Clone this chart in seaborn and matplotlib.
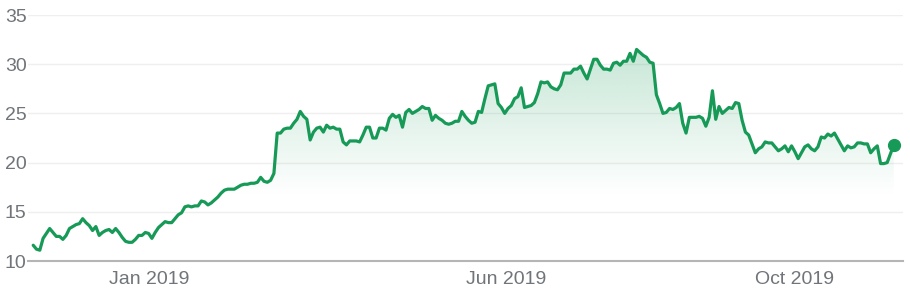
import numpy as np
import pandas as pd
import matplotlib
matplotlib.use("Agg")
import matplotlib.pyplot as plt
import matplotlib.dates as mdates
import seaborn as sns

# ---- data ----
start_date = "2018-11-13"
end_date = "2019-11-12"
prices = [
    # Nov - Dec 2018
    11.6, 11.2, 11.1, 12.3, 12.8, 13.3, 12.9, 12.5, 12.5, 12.2, 12.6, 13.3, 13.5, 13.7, 13.8,
    14.3, 13.9, 13.6, 13.1, 13.5, 12.6, 12.9, 13.1, 13.2, 12.9, 13.3, 12.9, 12.4, 12.0, 11.9,
    11.9, 12.2, 12.6, 12.6, 12.9,
    # Jan - Feb 2019
    12.8, 12.3, 12.9, 13.4, 13.7, 14.0, 13.9, 13.9, 14.3, 14.7, 14.9, 15.5, 15.6, 15.5, 15.6,
    15.6, 16.1, 16.0, 15.7, 15.9, 16.2, 16.5, 16.9, 17.2, 17.3, 17.3, 17.3, 17.5, 17.7, 17.8,
    17.8, 17.9, 17.9, 18.0, 18.5, 18.1, 18.0, 18.2, 18.9, 23.0, 23.0,
    # Mar - Apr 2019
    23.4, 23.5, 23.5, 24.0, 24.4, 25.2, 24.7, 24.4, 22.3, 23.1, 23.5, 23.6, 23.1, 23.8, 23.5,
    23.6, 23.4, 23.4, 22.1, 21.8, 22.2, 22.2, 22.2, 22.1, 22.8, 23.6, 23.6, 22.5, 22.5, 23.5,
    23.5, 23.3, 24.5, 24.9, 24.6,
    # Apr - Jun 2019
    24.8, 23.6, 25.1, 25.4, 25.0, 25.2, 25.4, 25.7, 25.5, 25.5, 24.3, 24.8, 24.5, 24.3, 24.0,
    23.9, 24.0, 24.2, 24.2, 25.2, 24.7, 24.3, 24.0, 24.1, 25.2, 25.1, 26.5, 27.8, 27.9, 28.0,
    26.0, 25.6, 25.0, 25.5, 25.8, 26.5, 26.7,
    # Jun - Jul 2019
    27.6, 25.6, 25.7, 25.8, 26.1, 27.0, 28.2, 28.1, 28.2, 27.7, 27.5, 27.4, 27.9, 29.1, 29.1,
    29.1, 29.5, 29.5, 29.8, 29.1, 28.5, 29.5, 30.5, 30.5, 29.9, 29.5, 29.5, 29.4, 30.1, 30.2,
    29.9, 30.3, 30.3, 31.1, 30.3, 31.5, 31.2,
    # Aug - Sep 2019
    30.9, 30.7, 30.2, 30.1, 26.9, 26.0, 25.0, 25.1, 25.5, 25.4, 25.6, 26.0, 24.0, 23.0, 24.6,
    24.6, 24.6, 24.7, 24.5, 23.7, 24.6, 27.3, 24.4, 25.7, 25.0, 25.3, 25.6, 25.5, 26.1, 26.0,
    24.3, 23.1, 22.8,
    # Sep - Nov 2019
    21.9, 21.0, 21.4, 21.6, 22.1, 22.0, 22.0, 21.6, 21.2, 21.4, 21.7, 21.1, 21.7, 21.1, 20.4,
    21.0, 21.6, 21.8, 21.4, 21.2, 21.6, 22.6, 22.5, 22.9, 22.7, 23.0, 22.4, 21.8, 21.2, 21.7,
    21.5, 21.6, 22.0, 22.0, 21.9, 21.9, 21.0, 21.4, 21.7, 19.9, 19.9, 20.0, 20.9, 21.8,
]
y_ticks = [10, 15, 20, 25, 30, 35]
x_tick_dates = ["2019-01-01", "2019-06-01", "2019-10-01"]
x_tick_labels = ["Jan 2019", "Jun 2019", "Oct 2019"]

dates = pd.date_range(start_date, end_date, periods=len(prices))
df = pd.DataFrame({"date": dates, "price": prices})

# ---- style ----
sns.set_style("white")
plt.rcParams["font.family"] = ["Liberation Sans", "DejaVu Sans"]

GREEN = "#179a57"
GRAY_TXT = "#70757a"

fig = plt.figure(figsize=(9.10, 2.93), dpi=100)
ax = fig.add_axes([28 / 910, 1 - 261 / 293, (903 - 28) / 910, (261 - 15) / 293])

# gridlines
for t in y_ticks[1:]:
    ax.axhline(t, color="#efefef", lw=1.0, zorder=0)

# line
sns.lineplot(data=df, x="date", y="price", ax=ax, color=GREEN, lw=2.3, zorder=3)

# gradient fill under line
xnum = mdates.date2num(df["date"])
fill_bottom = 16.5
top = max(prices)
poly = ax.fill_between(df["date"], df["price"], fill_bottom, color="none", lw=0)
grad = np.zeros((256, 2, 4))
rgb = matplotlib.colors.to_rgb(GREEN)
grad[:, :, 0] = rgb[0]
grad[:, :, 1] = rgb[1]
grad[:, :, 2] = rgb[2]
alphas = np.linspace(0.0, 0.24, 256)
grad[:, :, 3] = alphas[:, None]
im = ax.imshow(grad, extent=[xnum[0], xnum[-1], fill_bottom, top], origin="lower",
               aspect="auto", zorder=1, interpolation="bilinear")
clip = poly.get_paths()[0]
im.set_clip_path(clip, transform=ax.transData)

# end dot
ax.plot([df["date"].iloc[-1]], [df["price"].iloc[-1]], "o", color=GREEN, ms=8.5, zorder=4)

# axes
ax.set_ylim(10, 35)
ax.set_xlim(pd.Timestamp(start_date) - pd.Timedelta(days=2.2),
            pd.Timestamp(end_date) + pd.Timedelta(days=3.9))
ax.set_yticks(y_ticks)
ax.set_yticklabels([str(t) for t in y_ticks])
ax.set_xticks(pd.to_datetime(x_tick_dates))
ax.set_xticklabels(x_tick_labels)
ax.set_xlabel("")
ax.set_ylabel("")
for s in ["top", "right", "left"]:
    ax.spines[s].set_visible(False)
ax.spines["bottom"].set_color("#b5b5b5")
ax.spines["bottom"].set_linewidth(1.5)
ax.tick_params(axis="x", colors="#b5b5b5", labelcolor=GRAY_TXT, length=6, width=1.2,
               direction="out", pad=1.5, labelsize=14)
ax.tick_params(axis="y", length=0, labelcolor=GRAY_TXT, labelsize=14, pad=1)
ax.set_facecolor("white")

fig.savefig("out.png", dpi=100, facecolor="white")
